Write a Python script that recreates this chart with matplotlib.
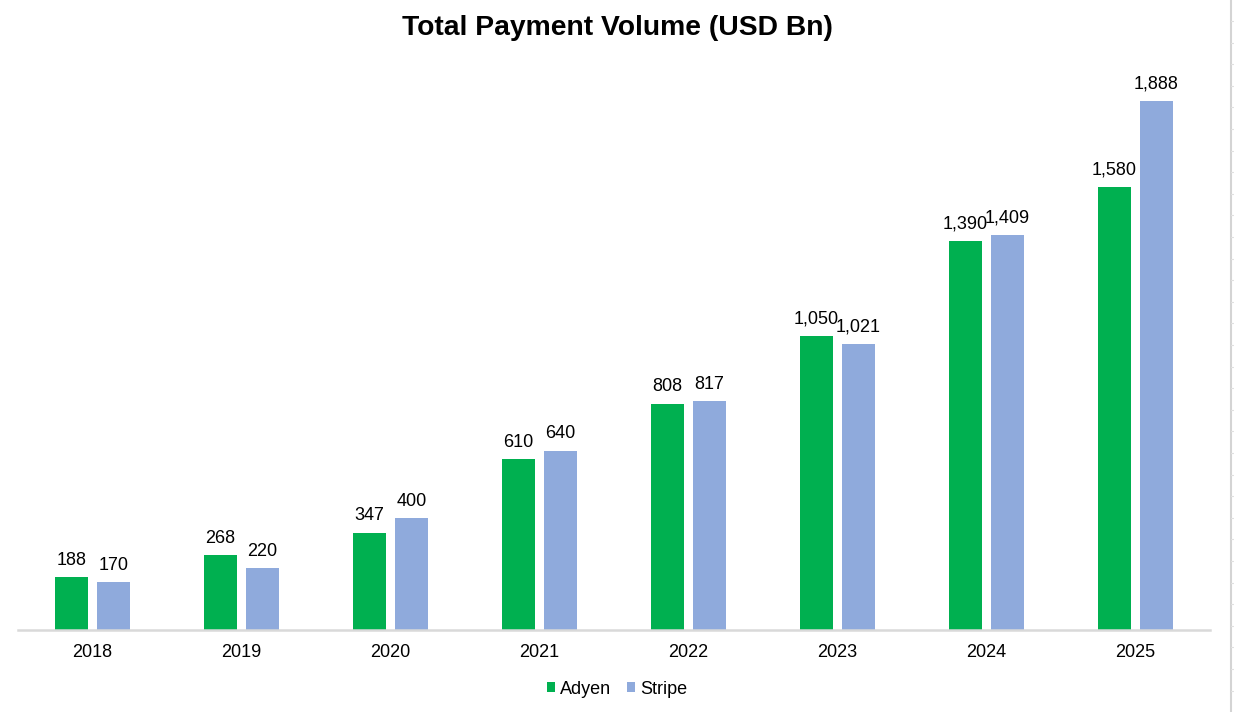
import matplotlib
matplotlib.use("Agg")
import matplotlib.pyplot as plt
import numpy as np
from matplotlib.lines import Line2D
from matplotlib.patches import Patch

years = ["2018", "2019", "2020", "2021", "2022", "2023", "2024", "2025"]
adyen = [188, 268, 347, 610, 808, 1050, 1390, 1580]
stripe = [170, 220, 400, 640, 817, 1021, 1409, 1888]
series_names = ["Adyen", "Stripe"]
colors = ["#00b050", "#8faadc"]

plt.rcParams['font.family'] = ['Liberation Sans', 'DejaVu Sans']

fig = plt.figure(figsize=(12.34, 7.12), dpi=100)
W, H = 1234, 712
left, right, bottom, top = 18, 1210, 630, 60
ax = fig.add_axes([left / W, 1 - bottom / H, (right - left) / W, (bottom - top) / H])

x = np.arange(len(years))
bw = 0.228
off = 0.141
for vals, sgn, col in [(adyen, -1, colors[0]), (stripe, 1, colors[1])]:
    bars = ax.bar(x + sgn * off, vals, width=bw, color=col, zorder=2)
    for b, v in zip(bars, vals):
        ax.annotate(f"{v:,}", (b.get_x() + b.get_width() / 2, v),
                    xytext=(0, 6), textcoords="offset points",
                    ha="center", va="bottom", fontsize=13, color="#000000")

ax.set_xlim(-0.5, len(years) - 0.5)
ax.set_ylim(0, (bottom - top) / 0.2802)
ax.set_xticks(x)
ax.set_xticklabels(years, fontsize=13)
ax.tick_params(axis="x", length=0, pad=10)
ax.set_yticks([])
for s in ["top", "right", "left"]:
    ax.spines[s].set_visible(False)
ax.spines["bottom"].set_color("#d9d9d9")
ax.spines["bottom"].set_linewidth(1.8)

fig.text(617 / W, 1 - 28 / H, "Total Payment Volume (USD Bn)", ha="center", va="center",
         fontsize=20.3, fontweight="bold")

handles = [Patch(facecolor=c, edgecolor="none") for c in colors]
fig.legend(handles, series_names, loc="center", bbox_to_anchor=(617 / W, 1 - 689 / H),
           ncol=2, frameon=False, fontsize=13, handlelength=0.45, handleheight=0.45,
           handletextpad=0.3, columnspacing=0.85)

# sheet edge decoration on the right
fig.add_artist(Line2D([1230.5 / W, 1230.5 / W], [0, 1], color="#d4d4d4", lw=1.5,
                      transform=fig.transFigure))
for yy in np.arange(21, 712, 21.6):
    fig.add_artist(Line2D([1231 / W, 1234 / W], [1 - yy / H, 1 - yy / H], color="#e0e0e0",
                          lw=0.8, transform=fig.transFigure))

fig.savefig("out.png", dpi=100, facecolor="white")
